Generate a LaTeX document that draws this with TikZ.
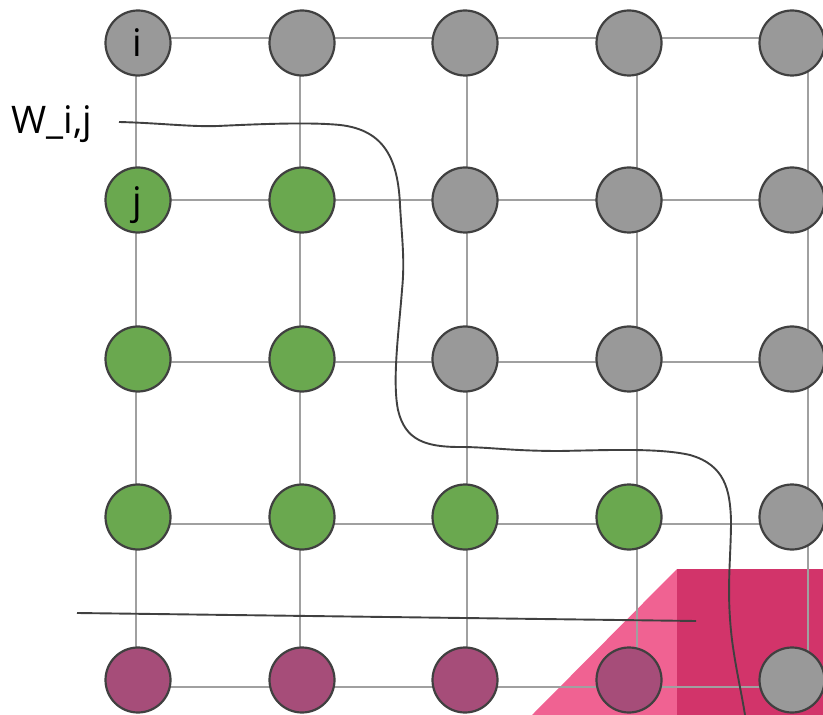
\documentclass[tikz,border=0pt]{standalone}
\usepackage{fontspec}
\setmainfont{Open Sans}
\definecolor{nodegray}{HTML}{999999}
\definecolor{nodegreen}{HTML}{6AA84F}
\definecolor{nodepurple}{HTML}{A64D79}
\definecolor{edgedark}{HTML}{404040}
\definecolor{gridgray}{HTML}{A0A0A0}
\definecolor{pinklight}{HTML}{F06292}
\definecolor{pinkdark}{HTML}{D2346A}
\tikzset{
  dot/.style={circle, draw=edgedark, line width=1.1pt, minimum size=32.5pt, inner sep=0pt, font=\fontsize{19}{22}\selectfont},
  graydot/.style={dot, fill=nodegray},
  greendot/.style={dot, fill=nodegreen},
  purpledot/.style={dot, fill=nodepurple},
  gridline/.style={draw=gridgray, line width=1.1pt},
  curveline/.style={draw=edgedark, line width=0.95pt},
  labeltext/.style={inner sep=0pt, font=\fontsize{19}{22}\selectfont},
}
\begin{document}
\begin{tikzpicture}[x=0.5pt, y=-0.5pt]
\useasboundingbox (0,0) rectangle (823,715);
% pink background shapes
\fill[pinklight] (532,715) -- (677,569) -- (677,715) -- cycle;
\fill[pinkdark] (677,569) rectangle (823,715);
% grid coordinates
\foreach \c/\x in {1/136,2/300,3/467,4/637,5/808}{
  \foreach \r/\y in {1/38,2/200,3/362,4/524,5/687}{
    \coordinate (g\r\c) at (\x,\y);
  }
}
\foreach \k in {1,...,5}{
  \draw[gridline] (g\k1) -- (g\k5);
  \draw[gridline] (g1\k) -- (g5\k);
}
% row 1
\node[graydot] (n11) at (138,43) {};
\node[labeltext] (ilab) at (137,43) {i};
\node[graydot] (n12) at (302,43) {};
\node[graydot] (n13) at (465,43) {};
\node[graydot] (n14) at (629,43) {};
\node[graydot] (n15) at (792,43) {};
% row 2
\node[greendot] (n21) at (138,200) {};
\node[greendot] (n22) at (302,200) {};
\node[graydot] (n23) at (465,200) {};
\node[graydot] (n24) at (629,200) {};
\node[graydot] (n25) at (792,200) {};
\node[labeltext] (jlab) at (137,205) {j};
% row 3
\node[greendot] (n31) at (138,359) {};
\node[greendot] (n32) at (302,359) {};
\node[graydot] (n33) at (465,359) {};
\node[graydot] (n34) at (629,359) {};
\node[graydot] (n35) at (792,359) {};
% row 4
\node[greendot] (n41) at (138,517) {};
\node[greendot] (n42) at (302,517) {};
\node[greendot] (n43) at (465,517) {};
\node[greendot] (n44) at (629,517) {};
\node[graydot] (n45) at (792,517) {};
% row 5
\node[purpledot] (n51) at (138,680) {};
\node[purpledot] (n52) at (302,680) {};
\node[purpledot] (n53) at (465,680) {};
\node[purpledot] (n54) at (629,680) {};
\node[graydot] (n55) at (792,680) {};
% label
\node[labeltext, anchor=base west] (wlab) at (11,134) {W\_i,j};
% curves
\coordinate (c1s) at (119,122);
\coordinate (c1e) at (745,715);
\draw[curveline] (c1s)
  .. controls (160,123) and (190,127) .. (218,126)
  .. controls (260,124) and (310,122) .. (340,125)
  .. controls (385,130) and (398,160) .. (400,205)
  .. controls (402,240) and (405,260) .. (402,290)
  .. controls (399,330) and (392,380) .. (398,410)
  .. controls (405,440) and (425,447) .. (460,447)
  .. controls (490,447) and (510,451) .. (560,451)
  .. controls (610,450) and (660,448) .. (690,455)
  .. controls (725,465) and (730,490) .. (731,520)
  .. controls (731,560) and (726,590) .. (732,640)
  .. controls (736,670) and (741,690) .. (c1e);
\coordinate (c2s) at (77,613);
\coordinate (c2e) at (696,621);
\draw[curveline] (c2s) -- (c2e);
\end{tikzpicture}
\end{document}
